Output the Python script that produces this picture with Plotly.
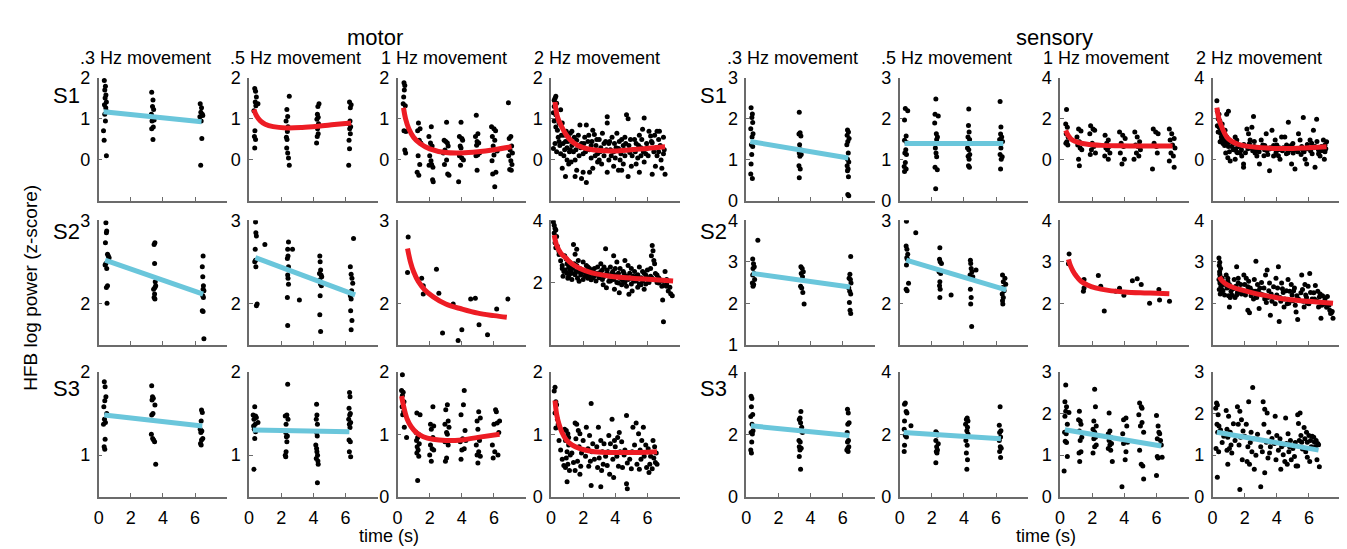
import plotly.graph_objects as go

# ---------------- DATA ----------------
# motor, S1
m_s1_03 = [(0.35,1.93),(0.42,1.79),(0.38,1.70),(0.45,1.58),(0.40,1.51),(0.48,1.41),(0.36,1.34),(0.44,1.27),(0.50,1.18),(0.38,1.11),(0.42,0.95),(0.30,0.71),(0.34,0.48),(0.48,0.10),
           (3.30,1.65),(3.38,1.46),(3.35,1.30),(3.42,1.23),(3.28,1.11),(3.36,1.02),(3.45,0.97),(3.32,0.95),(3.40,0.80),(3.30,0.76),(3.38,0.50),
           (6.32,1.37),(6.40,1.27),(6.36,1.16),(6.45,1.11),(6.30,1.05),(6.38,0.95),(6.42,0.52),(6.35,-0.13),(6.48,1.08)]
m_s1_03_fit_x = [0.3, 6.4]
m_s1_03_fit_y = [1.17, 0.93]

m_s1_05 = [(0.35,1.74),(0.40,1.67),(0.45,1.53),(0.38,1.41),(0.55,1.37),(0.42,1.32),(0.30,1.20),(0.36,0.71),(0.33,0.57),(0.40,0.50),(0.35,0.29),
           (2.50,1.55),(2.35,1.23),(2.40,1.06),(2.30,0.95),(2.42,0.81),(2.38,0.69),(2.32,0.55),(2.36,0.50),(2.34,0.29),(2.40,0.17),(2.45,0.05),(2.50,-0.13),
           (4.35,1.37),(4.28,1.30),(4.25,1.11),(4.30,1.04),(4.22,0.99),(4.32,0.88),(4.26,0.76),(4.30,0.64),(4.24,0.57),(4.20,0.41),
           (6.25,1.41),(6.35,1.34),(6.30,1.27),(6.28,0.95),(6.20,0.88),(6.32,0.81),(6.26,0.76),(6.30,0.64),(6.22,0.48),(6.25,0.27),(6.20,-0.13)]
m_s1_05_fit_x = [0.3,0.45,0.7,1.0,1.5,2.3,3.3,4.3,5.3,6.35]
m_s1_05_fit_y = [1.23,1.08,0.95,0.87,0.81,0.78,0.79,0.82,0.86,0.90]

m_s1_1 = [(0.40,1.88),(0.45,1.81),(0.42,1.70),(0.38,1.53),(0.35,1.37),(0.48,1.32),(0.40,0.71),(0.52,0.69),(0.45,0.24),(0.50,0.17),
          (1.30,0.90),(1.40,0.76),(1.25,0.71),(1.35,0.48),(1.45,0.41),(1.28,0.10),(1.38,-0.11),(1.22,-0.30),(1.32,-0.37),
          (2.10,0.81),(1.95,0.57),(2.05,0.41),(2.15,0.34),(1.98,0.29),(2.00,0.10),(2.08,-0.02),(2.12,-0.11),(1.96,-0.13),(2.20,-0.18),(2.18,-0.48),(2.22,-0.53),
          (3.05,0.92),(2.90,0.48),(3.00,0.45),(3.10,0.41),(3.15,0.34),(2.95,0.24),(2.85,0.17),(3.05,0.00),(2.92,-0.11),(3.12,-0.34),(3.20,-0.37),
          (3.95,0.92),(3.85,0.57),(4.00,0.52),(4.05,0.48),(3.90,0.34),(3.95,0.29),(3.85,0.10),(4.00,0.05),(4.10,0.00),(3.92,-0.13),(3.80,-0.53),
          (4.90,1.09),(5.00,0.64),(4.85,0.57),(4.95,0.45),(5.05,0.41),(4.92,0.36),(5.10,0.17),(4.98,0.12),(4.88,0.10),(4.95,-0.25),
          (5.85,0.81),(6.00,0.76),(6.10,0.71),(5.90,0.57),(6.05,0.48),(5.95,0.34),(6.20,0.22),(6.00,0.12),(5.88,-0.02),(6.12,-0.30),(5.92,-0.34),(6.05,-0.65),
          (6.90,1.39),(7.05,0.57),(6.95,0.52),(7.10,0.34),(7.00,0.24),(7.15,0.17),(6.92,0.10),(7.05,-0.02),(7.12,-0.11),(6.98,-0.23),(7.08,-0.25)]
m_s1_1_fit_x = [0.37,0.5,0.7,1.0,1.4,2.0,3.0,4.0,5.0,6.0,7.1]
m_s1_1_fit_y = [1.27,1.0,0.76,0.55,0.40,0.27,0.18,0.17,0.20,0.25,0.32]

m_s1_2 = [(0.15,1.15),(0.2,1.45),(0.25,1.5),(0.3,1.55),(0.35,1.38),(0.3,1.1),(0.2,0.95),(0.4,0.72),(0.25,0.4),(0.35,0.2),(0.15,0.28),
          (0.6,1.22),(0.7,0.9),(0.8,0.6),(0.9,0.45),(1.0,0.3),(0.6,0.15),(0.8,0.1),(1.1,-0.1),(0.9,-0.4),(0.7,-0.2),(1.2,0.65),(1.1,0.55),
          (1.3,0.35),(1.4,0.2),(1.5,0.0),(1.6,-0.25),(1.7,0.6),(1.8,0.85),(1.9,0.4),(1.5,-0.4),(1.9,-0.45),(2.0,0.15),(1.3,0.7),(1.6,0.48),
          (2.1,0.55),(2.2,0.85),(2.3,0.45),(2.4,0.25),(2.5,0.05),(2.6,-0.2),(2.7,0.62),(2.8,0.35),(2.9,0.15),(2.2,-0.55),(2.4,-0.3),(3.0,0.5),(2.9,-0.05),(2.6,0.72),
          (3.1,0.3),(3.2,0.65),(3.3,0.1),(3.4,0.45),(3.5,-0.3),(3.6,0.0),(3.7,0.25),(3.8,0.55),(3.9,0.2),(3.5,1.05),(3.5,0.9),(3.9,-0.15),(3.3,0.4),
          (4.1,0.65),(4.2,0.28),(4.3,0.0),(4.4,-0.25),(4.5,0.35),(4.6,0.55),(4.7,1.1),(4.8,1.0),(4.5,-0.1),(4.9,0.18),(4.8,-0.4),(4.2,-0.25),(4.6,0.1),
          (5.1,0.25),(5.2,0.5),(5.3,0.4),(5.4,0.05),(5.5,-0.3),(5.6,0.3),(5.7,0.75),(5.8,1.02),(5.9,0.15),(5.3,-0.1),(5.8,-0.05),(5.5,0.6),
          (6.1,0.7),(6.2,0.58),(6.3,0.42),(6.4,0.2),(6.5,-0.15),(6.6,0.7),(6.7,0.5),(6.8,0.35),(6.9,-0.2),(7.0,0.55),(7.1,-0.35),(6.3,-0.35),(6.6,0.1),
          (0.5,0.45),(1.0,0.0),(1.2,0.25),(2.0,-0.3),(2.5,0.35),(3.0,0.0),(3.6,0.4),(4.0,0.05),(4.4,0.5),(5.0,-0.15),(5.6,0.1),(6.0,0.3),(6.7,0.2),(7.0,0.15),
          (0.2,1.3),(0.3,0.8),(0.4,1.0),(0.45,0.55),(0.5,0.9),(0.55,0.35),(0.65,0.6),(0.75,0.4),(0.85,0.25),(0.95,0.7),
          (1.05,0.45),(1.15,0.2),(1.25,-0.05),(1.45,0.55),(1.55,0.25),(1.75,0.1),(1.85,0.3),(2.05,0.4),(2.15,0.2),(2.35,0.6),
          (2.55,0.45),(2.75,0.1),(2.85,0.5),(3.05,0.2),(3.15,-0.1),(3.45,0.25),(3.65,0.45),(3.75,0.1),(3.95,0.4),(4.05,0.3),
          (4.25,0.45),(4.35,0.15),(4.55,0.25),(4.65,0.4),(4.85,0.35),(4.95,0.5),(5.05,0.1),(5.25,0.2),(5.45,0.35),(5.65,0.5),
          (5.75,0.2),(5.95,0.4),(6.05,0.1),(6.25,0.45),(6.45,0.6),(6.55,0.3),(6.75,0.7),(6.85,0.0),(7.05,0.25)]
m_s1_2_fit_x = [0.25,0.4,0.7,1.0,1.4,2.0,3.0,4.0,5.0,6.0,7.1]
m_s1_2_fit_y = [1.41,1.05,0.78,0.58,0.42,0.30,0.23,0.22,0.25,0.28,0.32]

# sensory, S1
s_s1_03 = [(0.30,2.27),(0.38,2.12),(0.35,2.03),(0.40,1.91),(0.28,1.76),(0.42,1.64),(0.36,1.56),(0.32,1.37),(0.40,1.33),(0.34,1.13),(0.30,0.90),(0.28,0.66),(0.38,0.55),
           (3.30,2.16),(3.35,1.66),(3.28,1.63),(3.40,1.58),(3.32,1.37),(3.38,1.25),(3.30,1.17),(3.42,1.13),(3.34,1.09),(3.28,0.86),(3.36,0.78),(3.30,0.57),
           (6.30,1.73),(6.36,1.68),(6.28,1.60),(6.40,1.52),(6.32,1.45),(6.26,1.37),(6.35,1.17),(6.30,1.02),(6.38,0.95),(6.28,0.86),(6.34,0.78),(6.30,0.74),(6.36,0.59),(6.32,0.16),(6.38,0.13)]
s_s1_03_fit_x = [0.25, 6.35]
s_s1_03_fit_y = [1.45, 1.05]

s_s1_05 = [(0.35,2.25),(0.50,2.20),(0.30,1.97),(0.40,1.58),(0.30,1.48),(0.45,1.42),(0.38,1.25),(0.32,1.17),(0.42,1.13),(0.35,0.94),(0.28,0.84),(0.40,0.78),(0.30,0.72),
           (2.25,2.48),(2.20,2.11),(2.40,2.07),(2.18,1.90),(2.28,1.64),(2.35,1.56),(2.30,1.50),(2.22,1.29),(2.26,1.17),(2.30,1.08),(2.20,0.82),(2.34,0.76),(2.24,0.30),
           (4.30,2.24),(4.28,1.84),(4.32,1.68),(4.25,1.56),(4.35,1.50),(4.22,1.29),(4.30,1.25),(4.36,1.13),(4.26,1.09),(4.32,1.02),(4.28,0.86),(4.34,0.82),
           (6.25,2.42),(6.30,1.80),(6.28,1.63),(6.35,1.56),(6.22,1.50),(6.40,1.45),(6.30,1.29),(6.25,1.13),(6.38,1.08),(6.32,1.02),(6.28,0.78)]
s_s1_05_fit_x = [0.3, 6.45]
s_s1_05_fit_y = [1.40, 1.40]

s_s1_1 = [(0.40,2.45),(0.35,1.75),(0.45,1.59),(0.38,1.28),(0.50,1.12),(0.42,0.89),(0.36,0.81),(0.48,0.73),
          (1.15,1.51),(1.30,1.41),(1.05,1.12),(1.20,0.89),(1.10,0.73),(1.25,0.58),(1.35,0.50),(1.15,0.03),(1.20,-0.28),
          (1.90,1.67),(2.05,1.51),(2.15,1.44),(1.85,1.28),(2.00,0.81),(2.10,0.66),(1.95,0.50),(2.20,0.34),(1.88,0.27),
          (2.80,1.20),(3.00,0.97),(2.90,0.81),(3.05,0.66),(2.85,0.58),(2.95,0.50),(3.10,0.34),(2.78,0.19),(3.00,0.03),
          (3.70,1.36),(3.90,1.20),(4.05,1.05),(3.80,0.81),(3.95,0.66),(3.75,0.34),(4.00,0.03),(3.85,-0.20),
          (4.65,1.36),(4.80,1.12),(4.95,0.89),(4.70,0.73),(4.85,0.66),(5.00,0.50),(4.75,0.34),(4.90,0.19),(4.60,0.03),
          (5.80,1.51),(5.95,1.36),(6.10,1.28),(5.85,0.81),(6.00,0.66),(6.05,0.34),(5.75,-0.44),
          (6.80,1.51),(6.95,1.28),(7.10,1.05),(6.85,0.97),(7.00,0.73),(7.15,0.58),(6.90,0.34),(7.05,0.19),(6.80,-0.05),(7.10,-0.36)]
s_s1_1_fit_x = [0.35,0.5,0.76,1.1,1.6,2.6,3.7,5.0,6.0,7.0]
s_s1_1_fit_y = [1.44,1.2,0.97,0.86,0.78,0.71,0.69,0.68,0.68,0.68]

s_s1_2 = [(0.27,2.88),(0.30,2.37),(0.40,2.22),(0.45,1.91),(0.30,1.67),(0.50,1.51),(0.35,1.36),(0.55,1.12),(0.47,0.89),(0.60,1.75),
          (0.99,2.37),(0.88,2.22),(0.78,1.44),(0.88,1.12),(0.99,0.66),(0.82,0.34),(0.95,0.11),(1.10,-0.05),
          (1.41,1.12),(1.51,0.97),(1.62,0.66),(1.72,0.34),(1.82,0.19),(1.41,0.03),(1.93,-0.36),(1.93,-0.20),
          (2.24,1.28),(2.45,1.59),(2.55,2.11),(2.34,0.97),(2.45,0.58),(2.65,0.34),(2.76,0.19),(2.14,1.51),
          (3.03,0.97),(3.13,0.73),(3.34,1.28),(3.24,0.50),(3.44,0.27),(3.55,-0.52),(2.92,-0.20),(3.70,1.44),
          (3.90,0.97),(4.00,0.73),(4.10,0.50),(3.80,0.19),(4.20,0.03),(4.30,1.12),
          (4.50,1.12),(4.72,1.83),(4.61,0.73),(4.82,0.50),(4.92,-0.20),(5.02,0.34),(5.13,-0.44),
          (5.35,1.28),(5.45,0.97),(5.55,0.66),(5.65,2.06),(5.76,0.03),(5.86,-0.20),(5.51,0.27),
          (6.07,0.97),(6.17,0.81),(6.28,1.44),(6.38,0.66),(6.48,1.98),(6.38,-0.36),(6.59,0.50),(6.69,0.19),
          (6.90,0.97),(7.00,0.73),(7.10,0.89),(6.96,0.03),(6.79,0.66),
          (0.65,1.20),(0.70,0.90),(0.75,0.70),(1.30,0.50),(1.50,0.40),(2.60,0.90),(2.80,0.60),(3.20,0.20),(3.60,0.60),(4.10,0.20),
          (4.40,0.60),(4.60,0.30),(5.00,0.80),(5.20,0.50),(5.70,0.40),(5.90,0.55),(6.20,0.30),(6.50,0.90),(6.70,0.55),(7.00,0.40),
          (0.35,2.0),(0.4,1.6),(0.5,1.3),(0.55,0.95),(0.65,0.8),(0.7,1.0),(0.8,0.75),(0.9,0.9),(1.0,0.85),(1.05,0.4),
          (1.2,0.65),(1.3,0.8),(1.45,0.55),(1.55,0.35),(1.7,0.7),(1.8,0.5),(1.95,0.75),(2.05,0.35),(2.2,0.55),(2.3,0.8),
          (2.5,0.45),(2.6,0.65),(2.7,0.5),(2.9,0.4),(3.05,0.6),(3.25,0.7),(3.4,0.45),(3.6,0.55),(3.8,0.7),(3.95,0.35),
          (4.15,0.6),(4.35,0.45),(4.55,0.55),(4.7,0.35),(4.9,0.7),(5.1,0.55),(5.3,0.4),(5.6,0.5),(5.9,0.75),(6.1,0.45),
          (6.3,0.6),(6.6,0.3),(6.8,0.45),(7.05,0.55)]
s_s1_2_fit_x = [0.27,0.4,0.6,0.9,1.2,1.6,2.2,3.0,4.0,5.0,6.0,7.1]
s_s1_2_fit_y = [2.55,2.0,1.55,1.1,0.9,0.76,0.66,0.6,0.56,0.56,0.6,0.64]

# motor, S2
m_s2_03 = [(0.45,2.97),(0.50,2.87),(0.48,2.85),(0.42,2.73),(0.55,2.59),(0.60,2.57),(0.65,2.55),(0.45,2.48),(0.40,2.46),(0.50,2.42),(0.55,2.21),(0.48,2.19),(0.52,2.00),
           (3.50,2.73),(3.45,2.71),(3.48,2.48),(3.52,2.26),(3.55,2.21),(3.50,2.19),(3.42,2.17),(3.48,2.11),(3.45,2.07),(3.50,2.05),
           (6.50,2.57),(6.45,2.44),(6.48,2.32),(6.52,2.21),(6.50,2.17),(6.55,2.15),(6.48,2.09),(6.52,2.07),(6.45,1.91),(6.50,1.90),(6.55,1.57)]
m_s2_03_fit_x = [0.4, 6.5]
m_s2_03_fit_y = [2.52, 2.11]

m_s2_05 = [(0.40,2.98),(0.42,2.85),(0.45,2.81),(0.38,2.65),(0.40,2.52),(0.35,2.50),(0.42,2.44),(0.50,1.99),(0.45,1.97),(0.98,2.71),
           (2.45,2.74),(2.40,2.65),(2.42,2.57),(2.38,2.54),(2.45,2.44),(2.40,2.34),(2.42,2.30),(2.45,2.23),(2.38,2.07),(2.40,1.73),(2.70,2.65),(3.13,2.04),
           (4.40,2.57),(4.42,2.50),(4.45,2.40),(4.38,2.36),(4.48,2.34),(4.52,2.32),(4.40,2.28),(4.45,2.23),(4.50,2.21),(4.42,2.09),(4.40,1.86),(4.45,1.66),
           (6.50,2.78),(6.30,2.44),(6.35,2.35),(6.40,2.30),(6.45,2.24),(6.38,2.15),(6.30,2.09),(6.35,2.05),(6.32,1.91),(6.40,1.79),(6.35,1.68)]
m_s2_05_fit_x = [0.39, 6.6]
m_s2_05_fit_y = [2.55, 2.10]

m_s2_1 = [(0.66,2.80),(0.62,2.37),(1.50,2.30),(1.60,2.21),(1.60,2.11),(2.42,2.41),(2.57,2.12),(2.80,1.64),(3.46,1.99),(3.77,1.55),
          (4.00,1.68),(4.55,2.05),(4.84,2.06),(5.07,1.74),(5.60,1.62),(6.17,1.93),(6.87,2.05)]
m_s2_1_fit_x = [0.62,0.8,1.0,1.3,1.7,2.2,3.0,4.0,5.0,6.0,6.8]
m_s2_1_fit_y = [2.66,2.5,2.38,2.26,2.16,2.08,1.99,1.93,1.88,1.85,1.83]

m_s2_2 = [(0.15,3.95),(0.20,3.84),(0.25,3.74),(0.30,3.69),(0.20,3.59),(0.35,3.48),(0.25,3.28),(0.40,3.17),(0.30,3.12),
          (0.85,2.86),(0.95,2.76),(1.00,2.60),(1.10,2.50),(0.90,2.40),(1.20,2.29),(1.05,2.14),(1.15,2.66),(1.25,2.55),
          (1.40,3.22),(1.60,3.07),(1.50,2.91),(1.70,2.71),(1.45,2.60),(1.80,2.45),(1.55,2.35),(1.85,2.24),(1.65,2.14),(1.75,2.04),
          (2.00,2.66),(2.20,2.55),(2.40,2.45),(2.60,2.40),(2.80,2.29),(2.10,2.19),(2.50,2.09),(2.90,2.50),(2.30,2.14),
          (3.40,3.09),(3.20,2.40),(3.50,2.29),(3.30,2.19),(3.60,2.04),(3.45,1.83),(3.25,1.93),
          (3.90,2.86),(4.10,2.66),(4.30,2.45),(3.85,2.35),(4.00,2.24),(4.20,1.98),(4.40,1.93),(3.95,1.78),(4.25,1.67),
          (4.60,2.71),(4.80,2.55),(5.00,2.45),(4.55,2.29),(4.90,2.14),(5.15,2.04),(4.70,1.88),(5.05,1.73),(4.85,1.62),
          (5.50,2.50),(5.70,2.35),(5.90,2.24),(6.05,2.09),(5.60,1.93),(5.80,1.78),
          (6.30,3.19),(6.35,3.02),(6.25,2.86),(6.40,2.71),(6.45,2.60),(6.20,2.45),(6.50,2.29),(6.30,2.14),
          (6.60,2.24),(6.80,2.09),(6.70,1.98),(6.90,1.88),(6.95,1.44),(7.00,0.74),
          (7.10,2.35),(7.20,1.88),(7.30,1.73),(7.45,1.64),(7.55,1.57),
          (0.50,3.00),(0.70,2.45),(1.30,2.30),(2.70,2.20),(3.10,2.60),(3.70,2.50),(4.50,2.05),(5.30,2.20),(5.40,1.85),(6.00,2.40),(7.20,2.10),
          (0.5,2.9),(0.6,2.7),(0.7,2.55),(0.8,2.35),(0.75,2.2),(1.0,2.3),(1.1,2.2),(1.2,2.4),(1.3,2.1),(1.35,2.45),
          (1.5,2.25),(1.6,2.55),(1.7,2.35),(1.9,2.3),(2.0,2.1),(2.1,2.35),(2.2,2.25),(2.3,2.5),(2.4,2.2),(2.5,2.35),
          (2.6,2.15),(2.7,2.45),(2.8,2.05),(2.9,2.3),(3.0,2.15),(3.1,2.35),(3.2,2.1),(3.3,2.5),(3.4,2.25),(3.5,2.4),
          (3.6,2.2),(3.7,2.05),(3.8,2.3),(3.9,2.1),(4.0,2.45),(4.1,2.0),(4.2,2.3),(4.3,2.15),(4.4,2.1),(4.5,2.35),
          (4.6,2.0),(4.7,2.2),(4.8,2.1),(4.9,2.3),(5.0,1.95),(5.1,2.2),(5.2,2.35),(5.3,2.05),(5.4,2.25),(5.5,1.95),
          (5.6,2.15),(5.7,2.05),(5.8,2.3),(5.9,1.95),(6.0,2.15),(6.1,2.0),(6.2,2.2),(6.6,2.0),(6.7,2.15),(6.9,2.05),
          (7.0,1.9),(7.2,1.95),(7.4,1.85)]
m_s2_2_fit_x = [0.2,0.35,0.6,0.9,1.3,1.8,2.5,3.5,4.5,5.5,6.5,7.6]
m_s2_2_fit_y = [3.53,3.2,2.95,2.8,2.6,2.45,2.32,2.22,2.16,2.12,2.09,2.05]

# sensory, S2
s_s2_03 = [(0.72,3.52),(0.40,3.07),(0.45,2.95),(0.50,2.88),(0.42,2.84),(0.48,2.72),(0.40,2.68),(0.52,2.57),(0.38,2.49),(0.46,2.45),(0.42,2.41),
           (3.40,2.88),(3.48,2.84),(3.55,2.76),(3.42,2.72),(3.50,2.64),(3.38,2.41),(3.45,2.37),(3.52,2.26),(3.60,1.98),
           (6.50,3.13),(6.45,2.70),(6.40,2.60),(6.48,2.57),(6.52,2.49),(6.38,2.37),(6.44,2.29),(6.50,2.22),(6.42,2.02),(6.46,1.83),(6.50,1.75)]
s_s2_03_fit_x = [0.35, 6.45]
s_s2_03_fit_y = [2.72, 2.39]

s_s2_05 = [(0.42,2.99),(0.40,2.69),(0.45,2.65),(0.50,2.59),(0.44,2.55),(0.48,2.53),(0.42,2.46),(0.55,2.24),(0.40,2.17),(0.46,2.15),(1.00,2.85),
           (2.50,2.67),(2.48,2.53),(2.52,2.50),(2.60,2.48),(2.45,2.38),(2.55,2.36),(2.50,2.26),(2.48,2.21),(2.52,2.17),(2.50,2.07),(3.20,2.10),
           (4.40,2.52),(4.42,2.48),(4.45,2.42),(4.50,2.38),(4.38,2.34),(4.55,2.32),(4.40,2.17),(4.45,2.07),(4.42,1.99),(4.48,1.72),(4.75,2.40),
           (6.40,2.34),(6.55,2.30),(6.45,2.26),(6.60,2.23),(6.42,2.19),(6.50,2.15),(6.38,2.11),(6.45,2.07),(6.40,2.03),(6.42,1.99)]
s_s2_05_fit_x = [0.41, 6.63]
s_s2_05_fit_y = [2.52, 2.16]

s_s2_1 = [(0.56,3.19),(0.52,2.95),(1.49,2.57),(1.45,2.29),(1.49,2.37),(2.38,2.67),(2.53,2.41),(2.75,1.81),(3.46,2.29),(3.70,2.36),
          (3.97,2.19),(4.50,2.54),(4.80,2.59),(5.05,2.45),(5.57,2.00),(6.15,2.33),(6.19,2.08),(6.81,2.05)]
s_s2_1_fit_x = [0.52,0.65,0.8,1.0,1.3,1.7,2.2,3.0,4.0,5.0,6.0,6.8]
s_s2_1_fit_y = [3.06,2.9,2.78,2.66,2.53,2.44,2.37,2.31,2.27,2.25,2.24,2.23]

s_s2_2 = [(0.40,3.09),(0.45,2.99),(0.42,2.91),(0.50,2.84),(0.44,2.76),(0.48,2.64),(0.40,2.57),(0.46,2.49),(0.52,2.41),(0.42,2.33),(0.55,2.26),(0.48,2.22),
          (0.85,2.68),(0.95,2.53),(1.05,2.45),(0.90,2.37),(1.15,2.29),(1.00,2.18),(1.10,2.14),(1.05,1.91),
          (1.50,2.88),(1.35,2.57),(1.60,2.49),(1.45,2.41),(1.70,2.33),(1.55,2.26),(1.80,2.22),(1.40,2.14),
          (1.95,2.68),(2.10,2.60),(2.25,2.53),(2.00,2.45),(2.35,2.37),(2.15,2.29),(2.40,2.18),(2.20,1.83),(2.30,1.77),
          (2.70,3.01),(2.60,2.57),(2.80,2.45),(2.95,2.37),(2.65,2.29),(3.00,2.22),(2.75,2.14),(2.90,1.87),
          (3.40,2.80),(3.30,2.68),(3.55,2.49),(3.20,2.37),(3.65,2.22),(3.45,2.14),(3.35,2.02),(3.60,1.71),
          (4.10,2.88),(3.95,2.60),(4.30,2.49),(4.05,2.37),(4.40,2.26),(4.20,2.14),(3.90,1.99),(4.45,1.91),(4.15,1.56),
          (4.70,2.57),(4.90,2.45),(5.10,2.37),(4.80,2.29),(5.25,2.18),(5.00,2.06),(4.65,1.99),(5.20,1.79),(5.30,1.61),
          (5.55,2.68),(5.75,2.45),(5.95,2.41),(5.60,2.33),(6.10,2.26),(5.85,2.14),(6.00,1.99),(5.70,1.91),(6.05,2.72),
          (6.40,2.43),(6.55,2.29),(6.70,2.22),(6.85,2.18),(6.35,2.10),(6.95,1.99),(6.60,1.91),(6.75,1.64),
          (7.15,2.16),(7.30,1.83),(7.40,1.77),(7.50,1.64),(7.35,1.75),
          (0.45,2.7),(0.5,2.5),(0.55,2.35),(0.6,2.6),(0.65,2.3),(0.7,2.45),(0.75,2.2),(0.95,2.6),(1.1,2.4),(1.2,2.2),
          (1.3,2.35),(1.5,2.2),(1.6,2.6),(1.75,2.45),(1.85,2.3),(2.05,2.2),(2.2,2.4),(2.45,2.3),(2.55,2.1),(2.7,2.2),
          (2.85,2.3),(3.05,2.5),(3.15,2.2),(3.25,2.1),(3.5,2.3),(3.7,2.05),(3.8,2.4),(4.0,2.2),(4.25,2.05),(4.35,2.35),
          (4.5,2.1),(4.6,2.3),(4.75,2.0),(4.95,2.2),(5.05,2.3),(5.15,1.95),(5.35,2.1),(5.5,2.25),(5.65,2.05),(5.8,2.2),
          (5.9,2.0),(6.2,2.1),(6.3,2.25),(6.5,2.05),(6.65,2.15),(6.8,1.95),(7.0,2.1),(7.1,1.9),(7.25,1.95),(7.45,1.8)]
s_s2_2_fit_x = [0.43,0.6,0.9,1.3,1.8,2.5,3.5,4.5,5.5,6.5,7.5]
s_s2_2_fit_y = [2.64,2.54,2.45,2.38,2.32,2.25,2.17,2.10,2.06,2.03,2.0]

# motor, S3
m_s3_03 = [(0.35,1.88),(0.40,1.82),(0.45,1.70),(0.38,1.65),(0.32,1.58),(0.50,1.50),(0.36,1.43),(0.42,1.39),(0.30,1.37),(0.40,1.19),(0.34,1.10),(0.38,1.07),
           (3.30,1.83),(3.35,1.70),(3.40,1.68),(3.32,1.66),(3.50,1.60),(3.38,1.50),(3.30,1.48),(3.28,1.25),(3.36,1.20),(3.42,1.18),(3.48,1.16),(3.55,0.89),
           (6.40,1.54),(6.45,1.51),(6.38,1.41),(6.32,1.31),(6.42,1.29),(6.36,1.27),(6.48,1.20),(6.40,1.18),(6.34,1.14),(6.38,1.12)]
m_s3_03_fit_x = [0.35, 6.45]
m_s3_03_fit_y = [1.48, 1.35]

m_s3_05 = [(0.35,1.58),(0.25,1.48),(0.40,1.47),(0.45,1.45),(0.30,1.43),(0.55,1.39),(0.38,1.37),(0.28,1.35),(0.32,1.31),(0.40,1.28),(0.35,1.20),(0.30,0.83),
           (2.40,1.85),(2.35,1.48),(2.25,1.47),(2.42,1.43),(2.30,1.37),(2.28,1.27),(2.38,1.23),(2.32,1.22),(2.35,1.16),(2.30,1.04),(2.25,1.00),(2.28,0.98),
           (4.20,1.61),(4.22,1.48),(4.18,1.43),(4.25,1.37),(4.20,1.27),(4.24,1.23),(4.15,1.12),(4.20,1.08),(4.22,1.04),(4.26,1.00),(4.18,0.96),(4.28,0.93),(4.30,0.89),(4.25,0.67),
           (6.25,1.75),(6.28,1.70),(6.22,1.56),(6.30,1.50),(6.26,1.48),(6.20,1.43),(6.32,1.39),(6.24,1.37),(6.28,1.33),(6.22,1.18),(6.30,1.16),(6.24,1.04),(6.32,0.98)]
m_s3_05_fit_x = [0.23, 6.24]
m_s3_05_fit_y = [1.30, 1.28]

m_s3_1 = [(0.30,1.95),(0.25,1.70),(0.35,1.67),(0.30,1.62),(0.40,1.52),(0.28,1.44),(0.38,1.36),(0.32,1.31),(0.42,1.11),(0.56,0.95),
          (1.20,1.34),(1.40,1.31),(1.15,1.03),(1.30,1.00),(1.25,0.95),(1.18,0.90),(1.35,0.85),(1.22,0.80),(1.28,0.75),(1.20,0.70),(1.32,0.65),(1.25,0.26),
          (2.20,1.44),(2.05,1.16),(2.25,1.13),(2.10,1.08),(2.20,0.95),(2.05,0.83),(2.15,0.77),(2.25,0.75),(2.00,0.67),(2.10,0.57),
          (3.10,1.47),(3.00,1.39),(3.15,1.21),(2.95,1.16),(3.20,1.11),(3.05,1.03),(3.10,1.00),(2.95,0.88),(3.15,0.83),(3.05,0.62),(2.98,0.57),
          (4.15,1.70),(4.10,1.47),(3.95,1.31),(4.20,1.06),(4.05,0.93),(4.25,0.90),(3.90,0.88),(4.15,0.77),(4.00,0.75),(3.95,0.60),
          (5.05,1.36),(5.15,1.26),(4.95,1.21),(5.00,1.08),(5.10,0.90),(4.90,0.83),(5.05,0.72),(4.95,0.67),(5.15,0.65),(5.00,0.54),
          (6.10,1.39),(6.15,1.36),(6.20,1.18),(6.00,1.16),(6.30,1.03),(5.90,0.83),(6.05,0.72),(6.25,0.67),(5.95,0.62),(6.35,1.21)]
m_s3_1_fit_x = [0.25,0.4,0.6,0.85,1.2,1.6,2.2,3.0,4.0,5.0,6.35]
m_s3_1_fit_y = [1.61,1.42,1.24,1.12,1.02,0.96,0.92,0.90,0.91,0.95,1.0]

m_s3_2 = [(0.25,1.75),(0.20,1.69),(0.30,1.52),(0.35,1.47),(0.25,1.34),(0.40,1.24),(0.45,1.16),
          (0.85,1.08),(0.95,1.06),(1.05,1.01),(0.90,0.90),(1.10,0.83),(1.00,0.72),(1.20,0.67),(0.95,0.62),(1.05,0.52),(0.90,0.47),(1.15,0.42),(1.00,0.24),
          (1.50,1.18),(1.60,1.16),(1.70,1.06),(1.80,1.01),(1.55,0.93),(1.75,0.80),(1.65,0.57),(1.85,0.49),(1.50,0.42),(1.80,0.36),
          (2.50,1.49),(2.20,1.11),(2.40,0.98),(2.30,0.77),(2.55,0.72),(2.15,0.65),(2.45,0.57),(2.35,0.49),(2.50,0.18),
          (2.95,1.11),(3.10,0.90),(2.85,0.80),(3.20,0.72),(3.00,0.62),(3.25,0.52),(2.90,0.47),(3.15,0.42),(3.10,0.16),
          (3.80,1.24),(3.60,0.98),(3.95,0.90),(3.70,0.85),(4.00,0.80),(3.55,0.72),(3.85,0.60),(3.65,0.36),(3.90,0.31),
          (4.70,1.30),(4.25,1.03),(4.40,0.88),(4.60,0.75),(4.30,0.72),(4.55,0.67),(4.75,0.54),(4.20,0.49),(4.45,0.47),(4.70,0.21),(4.75,0.13),
          (5.30,1.18),(5.10,1.11),(5.45,1.01),(5.20,0.83),(5.55,0.75),(5.05,0.72),(5.35,0.52),(5.50,0.44),
          (5.75,1.11),(5.90,0.83),(6.05,0.77),(5.80,0.65),(6.15,0.52),(5.95,0.47),(6.10,0.39),
          (6.35,0.90),(6.45,0.80),(6.55,0.70),(6.40,0.62),(6.60,0.52),
          (0.3,1.1),(0.5,0.9),(0.6,0.75),(0.7,0.6),(0.8,0.5),(1.1,0.95),(1.3,0.7),(1.4,0.55),(1.9,0.7),(2.0,0.9),
          (2.6,0.85),(2.7,0.6),(3.3,0.85),(3.4,0.65),(3.5,0.5),(4.1,0.65),(4.15,0.95),(4.9,0.6),(5.0,0.45),(5.6,0.6),
          (5.65,0.9),(6.2,0.65),(6.3,0.45),(6.5,0.55)]
m_s3_2_fit_x = [0.25,0.35,0.5,0.7,0.95,1.3,1.8,2.5,3.5,4.5,5.5,6.6]
m_s3_2_fit_y = [1.54,1.32,1.16,1.02,0.91,0.83,0.77,0.73,0.71,0.71,0.71,0.72]

# sensory, S3
s_s3_03 = [(0.30,3.21),(0.35,3.14),(0.32,2.88),(0.40,2.63),(0.28,2.57),(0.36,2.32),(0.42,2.11),(0.30,2.06),(0.38,2.01),(0.34,1.75),(0.28,1.50),(0.32,1.40),
           (3.40,2.73),(3.35,2.52),(3.30,2.47),(3.38,2.37),(3.45,2.22),(3.32,2.11),(3.50,2.06),(3.28,1.80),(3.36,1.75),(3.30,1.60),(3.42,1.55),(3.34,1.50),(3.30,1.29),(3.38,0.88),
           (6.30,2.80),(6.35,2.68),(6.40,2.37),(6.32,2.32),(6.28,2.06),(6.36,1.80),(6.30,1.75),(6.38,1.60),(6.32,1.55),(6.26,1.50),(6.34,1.45)]
s_s3_03_fit_x = [0.29, 6.42]
s_s3_03_fit_y = [2.27, 1.96]

s_s3_05 = [(0.35,3.00),(0.30,2.96),(0.40,2.73),(0.45,2.68),(0.30,2.42),(0.28,2.16),(0.35,1.96),(0.42,1.91),(0.30,1.65),(0.28,1.45),(0.70,2.27),
           (2.25,2.08),(2.30,2.04),(2.35,1.98),(2.25,1.80),(2.40,1.70),(2.30,1.60),(2.35,1.50),(2.28,1.45),(2.32,1.40),(2.25,1.09),
           (4.20,2.52),(4.15,2.47),(4.25,2.42),(4.10,2.32),(4.22,2.22),(4.18,2.11),(4.25,2.01),(4.12,1.80),(4.20,1.65),(4.15,1.40),(4.22,1.19),(4.18,0.88),
           (6.25,2.88),(6.20,2.29),(6.30,2.11),(6.22,2.06),(6.28,1.91),(6.20,1.80),(6.26,1.60),(6.32,1.55),(6.22,1.45),(6.28,1.26)]
s_s3_05_fit_x = [0.25, 6.3]
s_s3_05_fit_y = [2.06, 1.86]

s_s3_1 = [(0.35,2.68),(0.30,2.28),(0.40,2.16),(0.55,2.02),(0.35,2.05),(0.30,1.93),(0.45,1.74),(0.28,1.55),(0.38,1.51),(0.32,1.33),(0.40,1.30),(0.45,0.97),(0.25,0.62),
          (1.20,2.05),(1.15,1.85),(1.25,1.82),(1.30,1.74),(1.20,1.58),(1.35,1.43),(1.25,1.35),(1.30,1.08),(1.18,1.05),(1.22,0.85),
          (2.15,2.58),(2.20,2.16),(2.10,1.82),(2.25,1.70),(2.05,1.62),(2.15,1.55),(2.20,1.43),(2.10,1.39),(2.25,1.24),(2.15,1.20),(2.05,1.05),
          (3.05,2.01),(3.10,1.58),(3.00,1.51),(3.15,1.43),(3.05,1.35),(3.20,1.28),(3.10,1.24),(3.00,1.16),(3.15,1.12),(3.25,0.85),
          (3.95,1.85),(4.10,1.89),(4.15,1.70),(3.90,1.51),(4.05,1.35),(4.20,1.31),(3.95,1.28),(4.10,1.08),(4.05,0.89),(3.85,0.24),
          (4.95,2.25),(5.05,2.16),(4.90,1.97),(5.10,1.78),(5.00,1.70),(5.20,1.55),(4.95,1.12),(5.05,0.78),(5.15,0.74),(5.20,0.43),(5.10,2.12),
          (6.00,1.95),(6.10,1.70),(6.15,1.55),(6.20,1.51),(6.05,1.39),(6.25,1.35),(6.30,1.24),(6.05,0.97),(6.10,0.93),(6.00,0.51),(6.35,0.95)]
s_s3_1_fit_x = [0.3, 6.3]
s_s3_1_fit_y = [1.61, 1.22]

s_s3_2 = [(0.25,2.25),(0.30,2.20),(0.20,2.12),(0.35,1.97),(0.28,1.74),(0.40,1.70),(0.32,1.55),(0.22,1.16),(0.38,1.08),(0.30,0.47),
          (0.85,2.07),(1.00,1.93),(0.90,1.62),(1.10,1.55),(0.95,1.43),(1.15,1.24),(1.05,1.16),(0.90,1.12),(0.95,0.78),
          (1.55,2.16),(1.70,2.05),(1.80,1.85),(1.60,1.74),(1.90,1.58),(1.75,1.43),(1.65,1.24),(1.85,0.89),(1.70,0.18),
          (2.25,2.28),(2.50,2.62),(2.10,1.74),(2.40,1.55),(2.55,1.39),(2.20,1.20),(2.45,1.08),(2.15,0.85),(2.30,0.78),(2.60,0.66),
          (3.15,2.28),(3.25,2.10),(3.40,2.01),(3.20,1.74),(3.50,1.55),(3.35,1.31),(3.60,1.20),(3.10,1.08),(3.45,0.93),(3.25,0.58),(3.00,0.24),
          (3.90,1.93),(4.00,1.47),(4.20,1.39),(3.85,1.28),(4.30,1.20),(4.10,1.12),(4.40,1.01),(3.95,0.89),(4.25,0.66),
          (4.55,1.89),(4.70,1.51),(4.85,1.35),(4.60,1.28),(5.00,1.16),(4.75,1.08),(5.10,0.97),(4.90,0.89),(4.65,0.78),(5.20,0.74),
          (5.30,1.97),(5.45,2.01),(5.35,1.76),(5.50,1.47),(5.40,1.35),(5.55,1.31),(5.30,0.74),
          (5.70,1.66),(5.85,1.55),(6.00,1.47),(5.75,1.39),(6.10,1.35),(5.90,1.31),(6.15,1.20),(5.80,1.08),(6.05,0.85),
          (6.30,1.43),(6.45,1.35),(6.35,1.31),(6.55,1.28),(6.50,0.89),(6.65,0.72),
          (0.5,1.6),(0.6,1.3),(0.7,1.45),(1.2,1.05),(1.3,1.75),(1.4,1.35),(2.0,1.45),(2.35,1.3),(2.7,1.0),(2.8,1.5),
          (3.0,1.2),(3.55,1.05),(3.7,1.4),(4.45,1.25),(4.5,0.85),(4.8,1.2),(5.15,1.3),(5.6,1.15),(5.9,0.95),(6.2,1.45),
          (6.4,1.2),(6.6,1.25)]
s_s3_2_fit_x = [0.27, 6.6]
s_s3_2_fit_y = [1.55, 1.12]

col_titles = [".3 Hz movement", ".5 Hz movement", "1 Hz movement", "2 Hz movement"] * 2
row_labels = ["S1", "S2", "S3"]
x_ticks = [0, 2, 4, 6]

# ---------------- LAYOUT ----------------
W, H = 1347, 549
COL_LEFT = [86, 237, 386, 540, 736, 890, 1051, 1204]
COL_W = 129
ROW_TOP = [62, 210, 367]
ROW_BOT = [190, 339, 497]
BLUE = "rgb(106,198,219)"
RED = "rgb(237,28,36)"
AXC = "#6b6b6b"
FONT = "Liberation Sans, Arial, sans-serif"

panels = [
    (m_s1_03, m_s1_03_fit_x, m_s1_03_fit_y), (m_s1_05, m_s1_05_fit_x, m_s1_05_fit_y),
    (m_s1_1, m_s1_1_fit_x, m_s1_1_fit_y), (m_s1_2, m_s1_2_fit_x, m_s1_2_fit_y),
    (s_s1_03, s_s1_03_fit_x, s_s1_03_fit_y), (s_s1_05, s_s1_05_fit_x, s_s1_05_fit_y),
    (s_s1_1, s_s1_1_fit_x, s_s1_1_fit_y), (s_s1_2, s_s1_2_fit_x, s_s1_2_fit_y),
    (m_s2_03, m_s2_03_fit_x, m_s2_03_fit_y), (m_s2_05, m_s2_05_fit_x, m_s2_05_fit_y),
    (m_s2_1, m_s2_1_fit_x, m_s2_1_fit_y), (m_s2_2, m_s2_2_fit_x, m_s2_2_fit_y),
    (s_s2_03, s_s2_03_fit_x, s_s2_03_fit_y), (s_s2_05, s_s2_05_fit_x, s_s2_05_fit_y),
    (s_s2_1, s_s2_1_fit_x, s_s2_1_fit_y), (s_s2_2, s_s2_2_fit_x, s_s2_2_fit_y),
    (m_s3_03, m_s3_03_fit_x, m_s3_03_fit_y), (m_s3_05, m_s3_05_fit_x, m_s3_05_fit_y),
    (m_s3_1, m_s3_1_fit_x, m_s3_1_fit_y), (m_s3_2, m_s3_2_fit_x, m_s3_2_fit_y),
    (s_s3_03, s_s3_03_fit_x, s_s3_03_fit_y), (s_s3_05, s_s3_05_fit_x, s_s3_05_fit_y),
    (s_s3_1, s_s3_1_fit_x, s_s3_1_fit_y), (s_s3_2, s_s3_2_fit_x, s_s3_2_fit_y),
]
red_fit = {1, 2, 3, 6, 7, 10, 11, 14, 15, 18, 19}
y_ranges = [[-1, 2]] * 4 + [[0, 3]] * 2 + [[-2, 4]] * 2 + \
           [[1.5, 3]] * 3 + [[0, 4]] + [[1, 4], [1.5, 3], [1, 4], [1, 4]] + \
           [[0.5, 2]] * 2 + [[0, 2]] * 2 + [[0, 4]] * 2 + [[0, 3]] * 2
y_ticks = [[0, 1, 2]] * 4 + [[0, 1, 2, 3]] * 2 + [[0, 2, 4]] * 2 + \
          [[2, 3]] * 3 + [[2, 4]] + [[1, 2, 3, 4], [2, 3], [2, 3, 4], [2, 3, 4]] + \
          [[1, 2]] * 2 + [[0, 1, 2]] * 2 + [[0, 2, 4]] * 2 + [[0, 1, 2, 3]] * 2

fig = go.Figure()
layout = {}
for i, (pts, fx, fy) in enumerate(panels):
    r, c = divmod(i, 8)
    n = i + 1
    xa = "x" if n == 1 else f"x{n}"
    ya = "y" if n == 1 else f"y{n}"
    fig.add_trace(go.Scatter(x=[p[0] for p in pts], y=[p[1] for p in pts], mode="markers",
                             marker=dict(color="black", size=5, line=dict(width=0)),
                             xaxis=xa, yaxis=ya, showlegend=False, hoverinfo="skip"))
    is_red = i in red_fit
    fig.add_trace(go.Scatter(x=fx, y=fy, mode="lines",
                             line=dict(color=RED if is_red else BLUE, width=5,
                                       shape="spline" if is_red else "linear"),
                             xaxis=xa, yaxis=ya, showlegend=False, hoverinfo="skip"))
    left = COL_LEFT[c]
    common = dict(showline=True, linecolor=AXC, linewidth=1.5, ticks="inside", ticklen=4,
                  tickcolor=AXC, tickwidth=1, showgrid=False, zeroline=False, fixedrange=True,
                  tickfont=dict(size=18, color="black", family=FONT))
    layout["xaxis" if n == 1 else f"xaxis{n}"] = dict(
        domain=[left / W, (left + COL_W) / W], anchor=ya, range=[0, 8],
        tickvals=x_ticks, showticklabels=(r == 2), ticklabelstandoff=4, **common)
    layout["yaxis" if n == 1 else f"yaxis{n}"] = dict(
        domain=[1 - ROW_BOT[r] / H, 1 - ROW_TOP[r] / H], anchor=xa, range=y_ranges[i],
        tickvals=y_ticks[i], ticklabelstandoff=3, **common)

annotations = []
def ann(text, px, py, size, angle=0):
    annotations.append(dict(text=text, x=px / W, y=1 - py / H, xref="paper", yref="paper",
                            xanchor="center", yanchor="middle", showarrow=False, textangle=angle,
                            font=dict(size=size, color="black", family=FONT)))

ann("motor", 363, 20, 22)
ann("sensory", 1045, 20, 22)
for c in range(8):
    ann(col_titles[c], COL_LEFT[c] + COL_W / 2 - 18, 42, 18)
for r, py in enumerate([80, 222, 385]):
    ann(row_labels[r], 54, py, 22)
    ann(row_labels[r], 703, py, 22)
ann("HFB log power (z-score)", 18, 280, 19, -90)
ann("time (s)", 377, 538, 18)
ann("time (s)", 1037, 538, 18)

fig.update_layout(width=W, height=H, margin=dict(l=0, r=0, t=0, b=0),
                  paper_bgcolor="white", plot_bgcolor="white",
                  font=dict(family=FONT, color="black"),
                  annotations=annotations, **layout)
fig.write_html("out.html")
